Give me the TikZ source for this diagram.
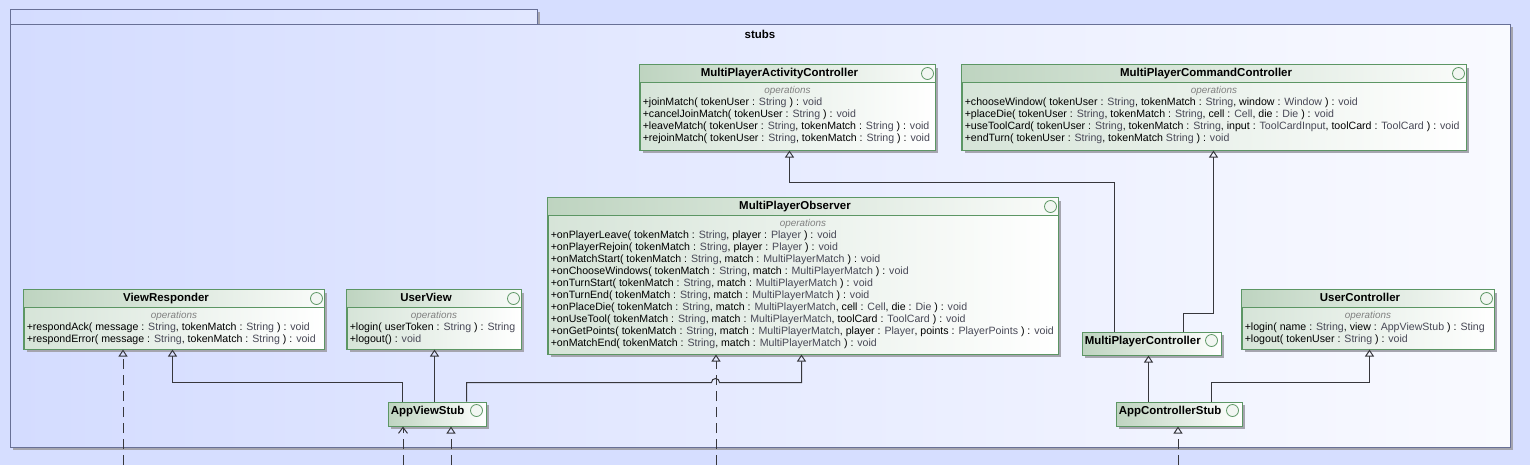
\documentclass[tikz,border=0pt]{standalone}
\usepackage{fontspec}
\setmainfont{Liberation Sans}
\usetikzlibrary{arrows.meta,calc,fit}

\definecolor{bgblue}{RGB}{214,222,255}
\definecolor{pkgleft}{RGB}{212,220,255}
\definecolor{pkgright}{RGB}{249,250,255}
\definecolor{pkgmid}{RGB}{225,231,255}
\definecolor{pkgline}{RGB}{104,112,150}
\definecolor{clsline}{RGB}{92,150,100}
\definecolor{hdrleft}{RGB}{190,212,192}
\definecolor{bodyleft}{RGB}{214,228,216}
\definecolor{shadowgray}{RGB}{165,165,175}
\definecolor{typegray}{RGB}{72,72,86}
\definecolor{linkgray}{RGB}{55,55,60}

\newcommand{\ty}[1]{\textcolor{typegray}{#1}}

\tikzset{
  clsbody/.style={draw=clsline, line width=0.75pt, inner sep=0pt, left color=bodyleft, right color=white},
  hdr/.style={left color=hdrleft, right color=white!92!hdrleft},
  icon/.style={draw=clsline, fill=white!80!hdrleft, line width=0.6pt},
  title/.style={anchor=base, inner sep=0pt, font=\bfseries\fontsize{8.6}{9}\selectfont},
  opshead/.style={anchor=base, inner sep=0pt, text=gray, font=\itshape\fontsize{7.4}{9}\selectfont},
  opline/.style={anchor=base west, inner sep=0pt, font=\fontsize{7.95}{9}\selectfont},
  gen/.style={draw=linkgray, line width=0.75pt, -{Triangle[open,length=5.25pt,width=6.75pt]}},
  real/.style={gen, dash pattern=on 7.5pt off 4.5pt},
  dep/.style={draw=linkgray, line width=0.75pt, dash pattern=on 7.5pt off 4.5pt, -{Straight Barb[length=4.5pt,width=6.75pt]}}
}

% interface box with an operations compartment
\newcommand{\umlclass}[7]{%
  \fill[shadowgray] (#2+3,#3+3) rectangle (#4+3,#5+3);
  \node[clsbody, fit={(#2,#3) (#4,#5)}] (#1) {};
  \shade[hdr] (#1.north west) rectangle ($(#1.north east)+(0,18)$);
  \draw[clsline, line width=0.75pt] (#1.north west) rectangle (#1.south east);
  \draw[clsline, line width=0.75pt] ($(#1.north west)+(0,18)$) -- ($(#1.north east)+(0,18)$);
  \draw[icon] ($(#1.north east)+(-8,9)$) circle (4.5pt);
  \node[title] at ($(#1.north)+(-8,12)$) {#6};
  \node[opshead] at ($(#1.north)+(0,29)$) {operations};
  \foreach \t [count=\i] in {#7} \node[opline] at ($(#1.north west)+(3,29+12*\i)$) {\t};
}
% small box with only a name
\newcommand{\umlstub}[6]{%
  \fill[shadowgray] (#2+3,#3+3) rectangle (#4+3,#5+3);
  \node[clsbody, left color=hdrleft, fit={(#2,#3) (#4,#5)}] (#1) {};
  \node[title, anchor=base west] at ($(#1.north west)+(3,13)$) {#6};
  \draw[icon] ($(#1.north east)+(-10,9)$) circle (4.5pt);
}

\begin{document}
\begin{tikzpicture}[x=0.75pt,y=-0.75pt]
  \fill[bgblue] (0,0) rectangle (1530,465); % background
  \useasboundingbox (0,0) rectangle (1530,465);

  % package stubs
  \fill[shadowgray] (13,12) rectangle (540,27);
  \fill[shadowgray] (13,27) rectangle (1513,450);
  \shade[left color=pkgleft, right color=pkgmid] (10,9) rectangle (537,24);
  \draw[pkgline, line width=0.75pt] (10,9) rectangle (537,24); % tab
  \shade[left color=pkgleft, right color=pkgright] (10,24) rectangle (1510,447);
  \draw[pkgline, line width=0.75pt] (10,24) rectangle (1510,447); % body
  \node[title] (pkgtitle) at (760,38) {stubs};

  % interfaces
  \umlclass{mpac}{640}{65}{935}{150}{MultiPlayerActivityController}{%
    {+joinMatch( tokenUser : \ty{String} ) : \ty{void}},
    {+cancelJoinMatch( tokenUser : \ty{String} ) : \ty{void}},
    {+leaveMatch( tokenUser : \ty{String}, tokenMatch : \ty{String} ) : \ty{void}},
    {+rejoinMatch( tokenUser : \ty{String}, tokenMatch : \ty{String} ) : \ty{void}}}
  \umlclass{mpcc}{962}{65}{1466}{150}{MultiPlayerCommandController}{%
    {+chooseWindow( tokenUser : \ty{String}, tokenMatch : \ty{String}, window : \ty{Window} ) : \ty{void}},
    {+placeDie( tokenUser : \ty{String}, tokenMatch : \ty{String}, cell : \ty{Cell}, die : \ty{Die} ) : \ty{void}},
    {+useToolCard( tokenUser : \ty{String}, tokenMatch : \ty{String}, input : \ty{ToolCardInput}, toolCard : \ty{ToolCard} ) : \ty{void}},
    {+endTurn( tokenUser : \ty{String}, tokenMatch \ty{String} ) : \ty{void}}}
  \umlclass{mpo}{548}{198}{1058}{354}{MultiPlayerObserver}{%
    {+onPlayerLeave( tokenMatch : \ty{String}, player : \ty{Player} ) : \ty{void}},
    {+onPlayerRejoin( tokenMatch : \ty{String}, player : \ty{Player} ) : \ty{void}},
    {+onMatchStart( tokenMatch : \ty{String}, match : \ty{MultiPlayerMatch} ) : \ty{void}},
    {+onChooseWindows( tokenMatch : \ty{String}, match : \ty{MultiPlayerMatch} ) : \ty{void}},
    {+onTurnStart( tokenMatch : \ty{String}, match : \ty{MultiPlayerMatch} ) : \ty{void}},
    {+onTurnEnd( tokenMatch : \ty{String}, match : \ty{MultiPlayerMatch} ) : \ty{void}},
    {+onPlaceDie( tokenMatch : \ty{String}, match : \ty{MultiPlayerMatch}, cell : \ty{Cell}, die : \ty{Die} ) : \ty{void}},
    {+onUseTool( tokenMatch : \ty{String}, match : \ty{MultiPlayerMatch}, toolCard : \ty{ToolCard} ) : \ty{void}},
    {+onGetPoints( tokenMatch : \ty{String}, match : \ty{MultiPlayerMatch}, player : \ty{Player}, points : \ty{PlayerPoints} ) : \ty{void}},
    {+onMatchEnd( tokenMatch : \ty{String}, match : \ty{MultiPlayerMatch} ) : \ty{void}}}
  \umlclass{vr}{24}{290}{324}{349}{ViewResponder}{%
    {+respondAck( message : \ty{String}, tokenMatch : \ty{String} ) : \ty{void}},
    {+respondError( message : \ty{String}, tokenMatch : \ty{String} ) : \ty{void}}}
  \umlclass{uv}{347}{290}{521}{349}{UserView}{%
    {+login( userToken : \ty{String} ) : \ty{String}},
    {+logout() : \ty{void}}}
  \umlclass{uc}{1242}{290}{1494}{349}{UserController}{%
    {+login( name : \ty{String}, view : \ty{AppViewStub} ) : \ty{Sting}},
    {+logout( tokenUser : \ty{String} ) : \ty{void}}}

  % stubs
  \umlstub{mpc}{1082}{332}{1221}{355}{MultiPlayerController}
  \umlstub{avs}{388}{402}{486}{426}{AppViewStub}
  \umlstub{acs}{1116}{402}{1242}{426}{AppControllerStub}

  % generalizations
  \draw[gen] ($(mpc.north west)+(33,0)$) |- ($(mpac.south west)+(150,32)$) -- ($(mpac.south west)+(150,0)$);
  \draw[gen] ($(mpc.north west)+(102,0)$) -- ++(0,-18) -| ($(mpcc.south west)+(252,0)$);
  \draw[gen] ($(avs.north west)+(15,0)$) -- ++(0,-19) -| ($(vr.south west)+(149,0)$);
  \draw[gen] ($(avs.north west)+(47,0)$) -- ($(uv.south west)+(88,0)$);
  \draw[gen] ($(avs.north west)+(79,0)$) -- ++(0,-19) -- ++(245,0) arc (180:360:4) -| ($(mpo.south west)+(254,0)$); % hop over dashed line
  \draw[gen] ($(acs.north west)+(33,0)$) -- ($(mpc.south west)+(67,0)$);
  \draw[gen] ($(acs.north west)+(96,0)$) -- ++(0,-19) -| ($(uc.south west)+(128,0)$);

  % links coming from below
  \coordinate (vrin) at (123,465);
  \coordinate (avsdep) at (403,465);
  \coordinate (avsin) at (451,465);
  \coordinate (mpoin) at (716,465);
  \coordinate (acsin) at (1178,465);
  \draw[real] (vrin) -- (vrin |- vr.south);
  \draw[dep] (avsdep) -- (avsdep |- avs.south);
  \draw[real] (avsin) -- (avsin |- avs.south);
  \draw[real] (mpoin) -- (mpoin |- mpo.south);
  \draw[real] (acsin) -- (acsin |- acs.south);
\end{tikzpicture}
\end{document}
